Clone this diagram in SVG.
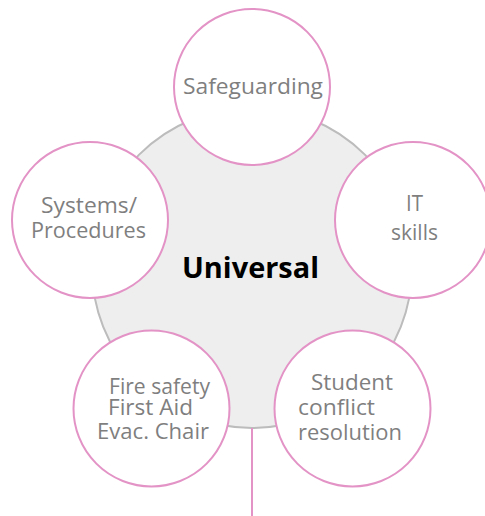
<svg xmlns="http://www.w3.org/2000/svg" width="485" height="516" viewBox="0 0 485 516">
<style>
.sat{fill:#ffffff;stroke:#e393c6;stroke-width:2}
.lbl{font-family:"Open Sans","Noto Sans",sans-serif;font-size:21px;fill:#7f7f7f}
.main{font-family:"Open Sans","Noto Sans",sans-serif;font-size:28px;font-weight:bold;fill:#000000}
</style>
<rect width="485" height="516" fill="#ffffff"/>
<g id="universal">
<circle cx="252" cy="268" r="160" fill="#eeeeee" stroke="#bcbcbc" stroke-width="2"/>
<text class="main" x="182" y="278" textLength="137" lengthAdjust="spacingAndGlyphs">Universal</text>
</g>
<g id="connectors">
<line x1="252" y1="428" x2="252" y2="516" stroke="#e393c6" stroke-width="2"/>
</g>
<g id="safeguarding">
<circle class="sat" cx="252" cy="87" r="78"/>
<text class="lbl" x="183" y="94" textLength="140" lengthAdjust="spacingAndGlyphs">Safeguarding</text>
</g>
<g id="systems">
<circle class="sat" cx="90" cy="220" r="78"/>
<text class="lbl" x="41" y="213" textLength="96" lengthAdjust="spacingAndGlyphs">Systems/</text>
<text class="lbl" x="31" y="238" textLength="115" lengthAdjust="spacingAndGlyphs">Procedures</text>
</g>
<g id="it">
<circle class="sat" cx="413" cy="220" r="78"/>
<text class="lbl" x="406" y="211" textLength="17" lengthAdjust="spacingAndGlyphs">IT</text>
<text class="lbl" x="391" y="240" textLength="47" lengthAdjust="spacingAndGlyphs">skills</text>
</g>
<g id="fire">
<circle class="sat" cx="151.5" cy="408.5" r="78"/>
<text class="lbl" x="109" y="394" textLength="101" lengthAdjust="spacingAndGlyphs">Fire safety</text>
<text class="lbl" x="108" y="415" textLength="85" lengthAdjust="spacingAndGlyphs">First Aid</text>
<text class="lbl" x="97" y="439" textLength="112" lengthAdjust="spacingAndGlyphs">Evac. Chair</text>
</g>
<g id="student">
<circle class="sat" cx="352.5" cy="408.5" r="78"/>
<text class="lbl" x="311" y="390" textLength="82" lengthAdjust="spacingAndGlyphs">Student</text>
<text class="lbl" x="298" y="415" textLength="77" lengthAdjust="spacingAndGlyphs">conflict</text>
<text class="lbl" x="298" y="440" textLength="104" lengthAdjust="spacingAndGlyphs">resolution</text>
</g>
</svg>
